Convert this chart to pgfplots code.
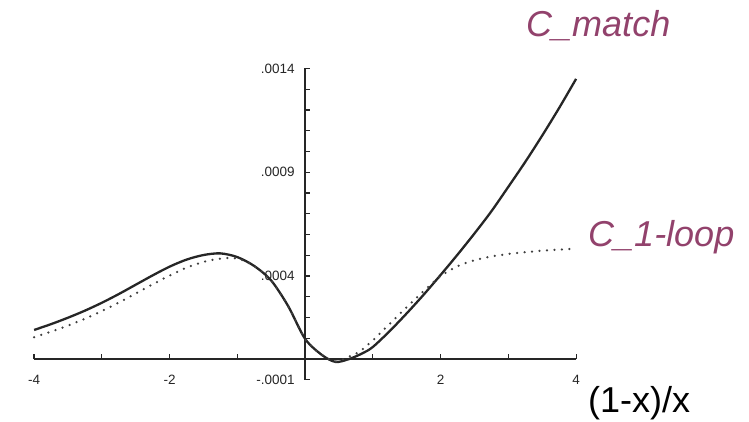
\documentclass[border=0pt]{standalone}
\usepackage{pgfplots}
\pgfplotsset{compat=1.18}
\usepackage{fontspec}
\setmainfont{Liberation Sans}
\newfontfamily\lab{Liberation Sans}
\definecolor{lblpurple}{RGB}{146,66,108}
\begin{document}
\begin{tikzpicture}
\useasboundingbox (-34.1bp,-42.25bp) rectangle (714.9bp,379.75bp);
\begin{axis}[
  at={(0,0)}, anchor=south west,
  scale only axis,
  width=542bp, height=311.25bp,
  xmin=-4, xmax=4, ymin=-0.0001, ymax=0.0014,
  axis lines=middle,
  axis line style={-, line width=1.3bp, black!85},
  clip=false,
  scaled y ticks=false, scaled x ticks=false,
  xtick={-4,-3,-2,-1,1,2,3,4},
  xticklabels={-4,,-2,,,2,,4},
  ytick={-0.0001,0,0.0001,0.0002,0.0003,0.0004,0.0005,0.0006,0.0007,0.0008,0.0009,0.001,0.0011,0.0012,0.0013,0.0014},
  yticklabels={-.0001,,,,,.0004,,,,,.0009,,,,,.0014},
  tick align=inside,
  major tick length=5bp,
  tick style={line width=1.2bp, black!85},
  ticklabel style={font=\lab\fontsize{13.5bp}{15bp}\selectfont, black!85},
  xticklabel style={yshift=-13bp},
  yticklabel style={xshift=-7bp},
]
\addplot[black!85, line width=2.3bp, smooth, tension=0.5] coordinates {
(-4.0,0.000140) (-3.75,0.000168) (-3.5,0.000199) (-3.25,0.000233)
(-3.0,0.000271) (-2.75,0.000313) (-2.5,0.000358) (-2.25,0.000403)
(-2.0,0.000445) (-1.75,0.000479) (-1.5,0.000501) (-1.25,0.000509)
(-1.0,0.000491) (-0.75,0.000448) (-0.5,0.000378) (-0.25,0.000255)
(0.0,0.000097) (0.25,0.000019) (0.45,-0.000014) (0.65,0.000000)
(0.85,0.000028) (1.0,0.000058) (1.25,0.000135) (1.5,0.000220) (1.75,0.000310)
(2.0,0.000405) (2.25,0.000503) (2.5,0.000605) (2.75,0.000712)
(3.0,0.000830) (3.25,0.000950) (3.5,0.001077) (3.75,0.001210)
(4.0,0.001350)
};
\addplot[black!75, line width=2.5bp, line cap=round, dash pattern=on 0bp off 7.5bp, smooth, tension=0.5] coordinates {
(-4.0,0.000105) (-3.75,0.000132) (-3.5,0.000161) (-3.25,0.000194)
(-3.0,0.000231) (-2.75,0.000272) (-2.5,0.000316) (-2.25,0.000360)
(-2.0,0.000402) (-1.75,0.000440) (-1.5,0.000468) (-1.25,0.000484)
(-1.0,0.000484) (-0.75,0.000448) (-0.5,0.000378) (-0.25,0.000255)
(0.0,0.000097) (0.25,0.000019) (0.45,-0.000012) (0.65,0.000012)
(0.8,0.000035) (1.0,0.000090) (1.25,0.000170) (1.5,0.000250)
(1.75,0.000327) (2.0,0.000400) (2.25,0.000447) (2.5,0.000476)
(2.75,0.000494) (3.0,0.000506) (3.25,0.000515) (3.5,0.000522)
(3.75,0.000527) (4.0,0.000532)
};
\node[anchor=base west, inner sep=0, text=lblpurple, font=\lab\itshape\fontsize{36bp}{40bp}\selectfont] at (axis cs:3.261,0.0015566) {C\_match};
\node[anchor=base west, inner sep=0, text=lblpurple, font=\lab\itshape\fontsize{36bp}{40bp}\selectfont] at (axis cs:4.176,0.00053976) {C\_1-loop};
\node[anchor=base west, inner sep=0, text=black, font=\lab\fontsize{36bp}{40bp}\selectfont] at (axis cs:4.176,-0.000256) {(1-x)/x};
\end{axis}
\end{tikzpicture}
\end{document}
